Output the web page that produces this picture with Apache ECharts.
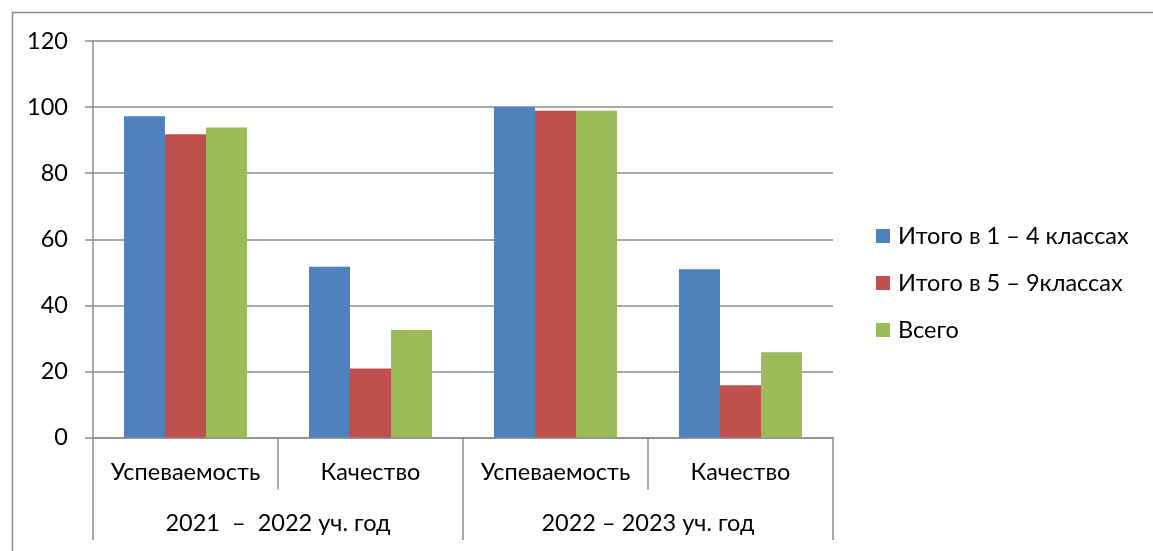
<!DOCTYPE html>
<html>
<head>
<meta charset="utf-8">
<script src="https://cdn.jsdelivr.net/npm/echarts@6/dist/echarts.min.js"></script>
<style>html,body{margin:0;padding:0;background:#fff}#c{width:1153px;height:551px}</style>
</head>
<body>
<div id="c"></div>
<script>
const categories = ["Успеваемость", "Качество", "Успеваемость", "Качество"];
const groups = ["2021  –  2022 уч. год", "2022 – 2023 уч. год"];
const seriesNames = ["Итого в 1 – 4 классах", "Итого в 5 – 9классах", "Всего"];
const s1 = [97.2, 51.7, 100, 50.9];
const s2 = [91.8, 20.9, 98.9, 15.8];
const s3 = [93.8, 32.5, 98.9, 25.8];
const yTicks = [0, 20, 40, 60, 80, 100, 120];
const colors = ["#4F81BD", "#C0504D", "#9BBB59"];

const FONT = "Lato";
const FS = 23.5;
const chart = echarts.init(document.getElementById('c'), null, {renderer: 'canvas'});
const gridLine = '#8c8c8c';
chart.setOption({
  animation: false,
  backgroundColor: '#fff',
  textStyle: {fontFamily: FONT},
  graphic: [{
    type: 'rect', left: 10, top: 10,
    shape: {width: 1200, height: 600},
    style: {fill: 'none', stroke: '#8c8c8c', lineWidth: 1.5},
    z: -10
  }],
  legend: {
    orient: 'vertical', left: 876, top: 224, itemGap: 23, padding: 0,
    itemWidth: 14, itemHeight: 14, icon: 'rect',
    textStyle: {fontFamily: FONT, fontSize: FS, color: '#000', padding: [0,0,0,3]},
    data: seriesNames
  },
  grid: {left: 93, right: 320, top: 41, bottom: 113.5, containLabel: false},
  xAxis: [{
    type: 'category', data: categories, position: 'bottom',
    axisLine: {lineStyle: {color: gridLine, width: 1.5}},
    axisTick: {show: true, alignWithLabel: false, interval: 0, length: 52, lineStyle: {color: gridLine, width: 1.5}},
    axisLabel: {interval: 0, margin: 22.5, color: '#000', fontSize: FS, fontFamily: FONT}
  }, {
    type: 'category', data: groups, position: 'bottom', offset: 102.5,
    axisLine: {show: false},
    axisTick: {show: true, inside: true, interval: 0, length: 51, lineStyle: {color: gridLine, width: 1.5}},
    axisLabel: {interval: 0, margin: -17, color: '#000', fontSize: FS, fontFamily: FONT, verticalAlign: 'middle'}
  }],
  yAxis: {
    type: 'value', min: 0, max: 120, interval: 20,
    axisLine: {show: true, lineStyle: {color: gridLine, width: 1.5}},
    axisTick: {show: true, length: 8, lineStyle: {color: gridLine, width: 1.5}},
    splitLine: {lineStyle: {color: gridLine, width: 1.5}},
    axisLabel: {margin: 25, color: '#000', fontSize: FS, fontFamily: FONT,
      formatter: v => yTicks.includes(v) ? String(v) : ''}
  },
  series: [s1, s2, s3].map((d, i) => ({
    name: seriesNames[i], type: 'bar', data: d,
    barGap: '0%', barCategoryGap: '33.5%',
    itemStyle: {color: colors[i]}
  }))
});
</script>
</body>
</html>
